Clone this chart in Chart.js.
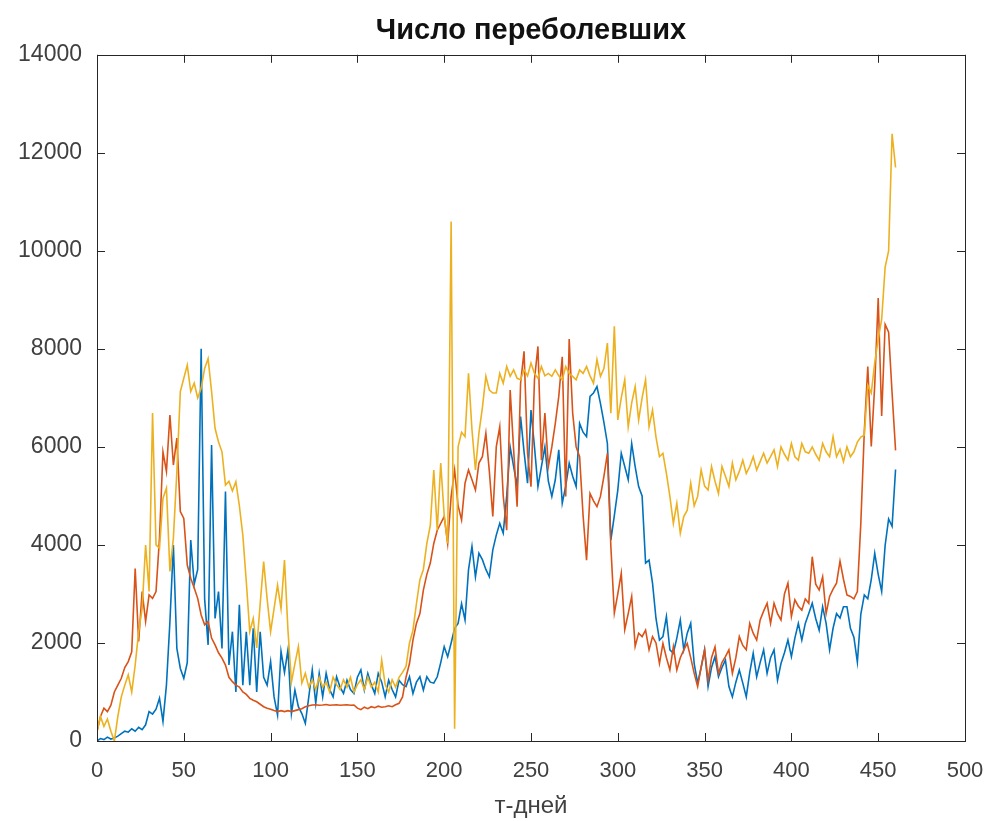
<!DOCTYPE html>
<html>
<head>
<meta charset="utf-8">
<title>Число переболевших</title>
<script src="https://cdn.jsdelivr.net/npm/chart.js@4.4.0/dist/chart.umd.min.js"></script>
<style>
  html, body { margin: 0; padding: 0; background: #fff; }
  #wrap { width: 988px; height: 821px; }
</style>
</head>
<body>
<div id="wrap"><canvas id="chart"></canvas></div>
<script>
// day numbers (every second day, 0..460)
const days = Array.from({ length: 231 }, (_, i) => i * 2);

const xTicks = [0, 50, 100, 150, 200, 250, 300, 350, 400, 450, 500];
const yTicks = [0, 2000, 4000, 6000, 8000, 10000, 12000, 14000];

// blue line
const blueVals = [
  0, 50, 30, 80, 40, 60, 100, 150, 200, 180,
  250, 200, 280, 230, 330, 600, 550, 650, 870, 400,
  1140, 2430, 4000, 1890, 1480, 1280, 1600, 4100, 3200, 3500,
  8000, 2900, 1960, 6040, 2500, 3050, 1890, 5090, 1550, 2230,
  1000, 2780, 1140, 2230, 1140, 2300, 1000, 2230, 1300, 1140,
  1620, 900, 530, 1830, 1400, 1860, 560, 1040, 700, 560,
  360, 900, 1450, 770, 1380, 900, 1380, 1050, 900, 1310,
  1100, 970, 1240, 1050, 970, 1300, 1450, 1040, 1380, 1150,
  970, 1380, 1200, 900, 1240, 1050, 900, 1240, 1150, 1110,
  1310, 970, 1200, 1310, 1040, 1310, 1200, 1180, 1310, 1600,
  1925, 1720, 2000, 2300, 2400, 2800, 2470, 3490, 3970, 3350,
  3830, 3700, 3500, 3350, 3900, 4200, 4440, 4240, 5000, 6000,
  5600, 5190, 6620, 5900, 5260, 6750, 6000, 5190, 5600, 6000,
  5300, 4990, 5330, 5940, 4850, 5200, 5670, 5400, 5190, 6480,
  6300, 6210, 7030, 7100, 7230, 6890, 6500, 6070, 4100, 4600,
  5120, 5870, 5600, 5330, 6070, 5600, 5190, 5000, 3630, 3690,
  3220, 2500, 2060, 2130, 2540, 1860, 1790, 2100, 2470, 1860,
  2200, 2400, 1580, 1180, 1500, 1860, 1110, 1500, 1720, 1310,
  1500, 1650, 1110, 900, 1200, 1450, 1180, 900, 1400, 1790,
  1310, 1600, 1860, 1380, 1700, 1860, 1240, 1580, 1800, 2060,
  1720, 2100, 2400, 2060, 2400, 2600, 2810, 2500, 2260, 2740,
  2400, 1860, 2300, 2600, 2510, 2740, 2740, 2300, 2120, 1610,
  2590, 2980, 2900, 3290, 3830, 3400, 3050, 3990, 4530, 4380,
  5540
];

// red line
const redVals = [
  190, 500, 670, 600, 730, 1000, 1140, 1280, 1500, 1620,
  1820, 3520, 2030, 3050, 2440, 2980, 2910, 3050, 4140, 5900,
  5500, 6650, 5630, 6180, 4680, 4540, 3590, 3320, 3120, 2910,
  2570, 2370, 2440, 2100, 1960, 1800, 1690, 1550, 1300, 1210,
  1140, 1100, 1000, 950, 870, 830, 800, 750, 700, 670,
  650, 620, 600, 620, 600, 620, 600, 620, 640, 660,
  700, 720, 735, 740, 730, 735, 745, 730, 735, 740,
  730, 735, 740, 730, 735, 670, 640, 690, 660, 700,
  680, 710, 690, 700, 720, 700, 740, 770, 900, 1300,
  1580, 2060, 2400, 2600, 3080, 3400, 3630, 4030, 4300, 4440,
  4580, 4030, 4990, 5530, 4800, 4510, 5260, 5530, 5330, 5120,
  5670, 5800, 6280, 5500, 4580, 6000, 6410, 5000, 4300, 7160,
  5940, 4780, 7300, 7950, 5870, 5190, 7370, 8050, 5730, 6690,
  5600, 6000, 6480, 7030, 7840, 4990, 8200, 6690, 6000, 5800,
  4600, 3690, 5050, 4900, 4780, 4990, 5400, 5870, 3970, 2610,
  3000, 3420, 2270, 2600, 2950, 1930, 2200, 2130, 2260, 1860,
  2130, 2000, 1580, 1990, 1700, 1450, 1920, 1450, 1700, 1860,
  1990, 1700, 1380, 1110, 1500, 1860, 1240, 1700, 1920, 1380,
  1600, 1720, 1860, 1380, 1700, 2130, 1950, 1860, 2400, 2200,
  2060, 2470, 2650, 2810, 2400, 2810, 2600, 2470, 3000, 3220,
  2540, 2880, 2750, 2670, 2900, 2810, 3760, 3200, 3080, 3350,
  2600, 2950, 3100, 3220, 3670, 3300, 2980, 2950, 2900, 3050,
  4450, 6320, 7640, 6010, 7260, 9040, 6630, 8500, 8340, 7100,
  5930
];

// yellow line
const yellowVals = [
  200, 500, 300, 450, 200, 0, 500, 900, 1140, 1350,
  1000, 1550, 2230, 2700, 4000, 3050, 6690, 4000, 3930, 4950,
  5160, 3460, 4140, 5500, 7130, 7400, 7670, 7130, 7300, 7000,
  7200, 7600, 7800, 7130, 6380, 6100, 5900, 5220, 5300, 5100,
  5290, 4800, 4200, 3250, 2230, 2500, 1900, 2800, 3660, 2900,
  2230, 2700, 3180, 2700, 3690, 2260, 1200, 1580, 1925, 1180,
  1380, 1100, 1250, 1050, 1300, 1100, 1200, 1000, 1300, 1150,
  1050, 1250, 1100, 1300, 1000, 1150, 1250, 1050, 1300, 1100,
  1200, 1000, 1650, 1150, 1000, 1250, 1100, 1300, 1400, 1520,
  2000, 2260, 2800, 3290, 3500, 4030, 4400, 5530, 4300, 5670,
  4600, 4030, 10600, 250, 6000, 6300, 6210, 7500, 6350, 5530,
  6280, 6800, 7440, 7160, 7100, 7100, 7500, 7300, 7640, 7440,
  7570, 7400, 7370, 7570, 7450, 7710, 7500, 7400, 7640, 7450,
  7500, 7440, 7570, 7450, 7370, 7640, 7500, 7440, 7370, 7570,
  7500, 7640, 7450, 7300, 7780, 7440, 7600, 8120, 6690, 8460,
  6550, 7000, 7370, 6410, 6900, 7230, 6550, 7000, 7370, 6410,
  6750, 6200, 5800, 5870, 5460, 4990, 4440, 4850, 4240, 4580,
  4710, 5260, 4800, 4990, 5530, 5200, 5120, 5600, 5300, 5050,
  5600, 5400, 5190, 5670, 5330, 5500, 5730, 5460, 5600, 5800,
  5530, 5700, 5870, 5670, 5800, 5940, 5600, 6000, 5850, 5730,
  6070, 5800, 5730, 6070, 5900, 5870, 6000, 5850, 5730, 6070,
  5900, 5800, 6210, 5800, 5950, 5700, 6000, 5800, 5900, 6100,
  6200, 6240, 7260, 7100, 7720, 8200, 8600, 9670, 10000, 12390,
  11700
];

const toPoints = vals => vals.map((v, i) => ({ x: days[i], y: v }));

// matlab style box with inward ticks
const boxPlugin = {
  id: 'boxPlugin',
  afterDatasetsDraw(chart) {
    const { ctx, chartArea: a, scales } = chart;
    const tl = 8;
    ctx.save();
    ctx.strokeStyle = '#262626';
    ctx.lineWidth = 1;
    ctx.beginPath();
    xTicks.forEach(v => {
      const px = Math.round(scales.x.getPixelForValue(v)) + 0.5;
      ctx.moveTo(px, a.bottom); ctx.lineTo(px, a.bottom - tl);
      ctx.moveTo(px, a.top); ctx.lineTo(px, a.top + tl);
    });
    yTicks.forEach(v => {
      const py = Math.round(scales.y.getPixelForValue(v)) + 0.5;
      ctx.moveTo(a.left, py); ctx.lineTo(a.left + tl, py);
      ctx.moveTo(a.right, py); ctx.lineTo(a.right - tl, py);
    });
    ctx.stroke();
    ctx.strokeRect(Math.round(a.left) + 0.5, Math.round(a.top) + 0.5,
      Math.round(a.width), Math.round(a.height));
    ctx.restore();
  }
};

const line = (vals, color, order) => ({
  data: toPoints(vals),
  borderColor: color,
  borderWidth: 1.6,
  pointRadius: 0,
  tension: 0,
  order: order
});

const font = 'Liberation Sans, Arial, sans-serif';

new Chart(document.getElementById('chart'), {
  type: 'line',
  data: {
    datasets: [
      line(blueVals, '#0072BD', 3),
      line(redVals, '#D95319', 2),
      line(yellowVals, '#EDB120', 1)
    ]
  },
  options: {
    responsive: true,
    maintainAspectRatio: false,
    animation: false,
    devicePixelRatio: 1,
    layout: { padding: { left: 0, right: 23, top: 0, bottom: 0 } },
    plugins: {
      legend: { display: false },
      tooltip: { enabled: false },
      title: {
        display: true,
        fullSize: false,
        text: 'Число переболевших',
        color: '#111',
        font: { family: font, size: 29, weight: 'bold' },
        padding: { top: 14, bottom: 6 }
      }
    },
    scales: {
      x: {
        type: 'linear',
        min: 0,
        max: 500,
        afterFit: s => { s.height = 80; s.paddingLeft = 0; s.paddingRight = 0; },
        afterBuildTicks: s => { s.ticks = xTicks.map(v => ({ value: v })); },
        grid: { display: false, drawTicks: false },
        border: { display: false },
        ticks: {
          color: '#404040',
          padding: 17,
          maxRotation: 0,
          callback: v => String(v),
          font: { family: font, size: 22 }
        },
        title: {
          display: true,
          text: 'т-дней',
          color: '#404040',
          font: { family: font, size: 24 },
          padding: { top: 0, bottom: 0 }
        }
      },
      y: {
        min: 0,
        max: 14000,
        afterFit: s => { s.width = 97; },
        afterBuildTicks: s => { s.ticks = yTicks.map(v => ({ value: v })); },
        grid: { display: false, drawTicks: false },
        border: { display: false },
        ticks: {
          color: '#404040',
          padding: 15,
          callback: v => String(v),
          font: { family: font, size: 23 }
        }
      }
    }
  },
  plugins: [boxPlugin]
});
</script>
</body>
</html>
